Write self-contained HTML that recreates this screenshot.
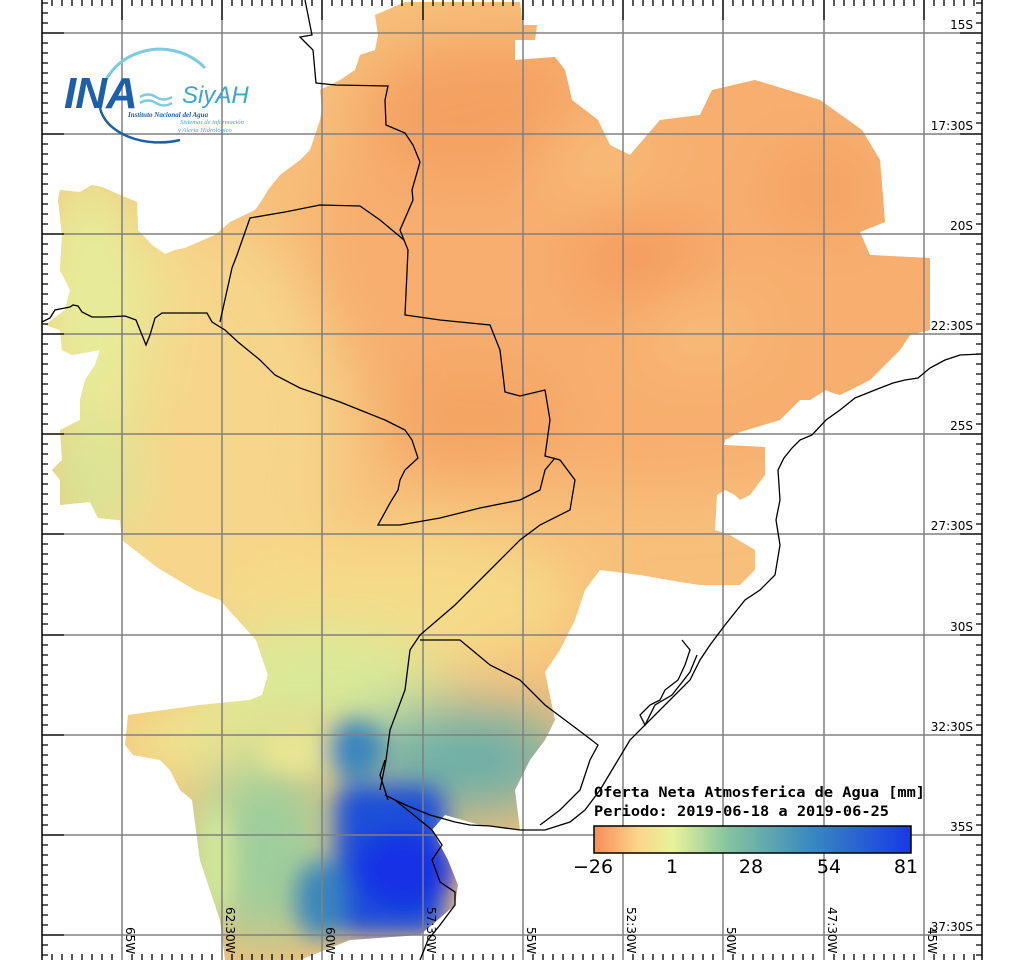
<!DOCTYPE html>
<html><head><meta charset="utf-8"><style>
html,body{margin:0;padding:0;background:#fff}
svg{display:block}
text{font-family:"DejaVu Sans","Liberation Sans",sans-serif}
</style></head><body>
<svg width="1024" height="960" viewBox="0 0 1024 960" xmlns="http://www.w3.org/2000/svg">
<defs>
<clipPath id="land">
<path d="M405,2 L520,2 L523,25 L537,25 L535,40 L515,40 L515,60 L555,57 L565,70 L572,100 L598,120 L610,145 L630,155 L660,120 L700,115 L712,90 L755,80 L820,100 L862,130 L880,160 L885,222 L860,232 L870,255 L930,258 L930,330 L910,335 L900,350 L880,370 L870,380 L840,395 L830,392 L826,390 L810,400 L800,400 L780,420 L740,432 L725,440 L724,445 L765,447 L765,475 L750,495 L740,500 L735,495 L725,490 L717,495 L715,530 L730,535 L755,550 L755,570 L740,585 L720,585 L700,585 L680,582 L640,575 L600,570 L585,590 L575,620 L560,650 L545,672 L555,720 L545,740 L530,760 L515,790 L520,830 L480,825 L445,815 L432,830 L448,860 L458,885 L455,905 L440,918 L420,935 L350,940 L330,948 L300,960 L225,960 L220,920 L210,890 L200,860 L192,800 L180,790 L170,770 L160,760 L133,755 L125,745 L128,715 L200,705 L250,700 L262,695 L268,675 L256,640 L220,600 L195,590 L158,568 L122,540 L120,520 L98,518 L90,502 L60,505 L60,480 L52,470 L62,460 L60,430 L80,420 L80,400 L85,380 L95,365 L100,350 L72,355 L62,350 L60,330 L45,325 L65,310 L70,290 L60,270 L62,235 L58,200 L60,190 L80,192 L92,185 L102,187 L120,195 L137,202 L138,230 L152,245 L165,254 L175,250 L185,248 L215,235 L230,222 L255,210 L262,200 L268,190 L280,175 L300,160 L310,150 L320,120 L322,108 L320,90 L340,80 L355,70 L360,55 L375,50 L378,35 L375,15 Z"/>
</clipPath>
<filter id="bl" x="-50%" y="-50%" width="200%" height="200%"><feGaussianBlur stdDeviation="30"/></filter>
<filter id="bl2" x="-50%" y="-50%" width="200%" height="200%"><feGaussianBlur stdDeviation="12"/></filter>
<linearGradient id="cb" x1="0" x2="1" y1="0" y2="0">
<stop offset="0" stop-color="#fb8c58"/>
<stop offset="0.14" stop-color="#fbd68a"/>
<stop offset="0.25" stop-color="#e8f29a"/>
<stop offset="0.42" stop-color="#86c49e"/>
<stop offset="0.68" stop-color="#3a8abf"/>
<stop offset="1" stop-color="#1739e6"/>
</linearGradient>
</defs>

<g clip-path="url(#land)">
<rect x="0" y="0" width="1024" height="960" fill="#f7bf7a"/>
<g filter="url(#bl)">
<ellipse cx="650" cy="250" rx="340" ry="240" fill="#f7ae6e"/>
<ellipse cx="470" cy="110" rx="110" ry="70" fill="#f4a062"/>
<ellipse cx="640" cy="260" rx="70" ry="45" fill="#f49c5e"/>
<ellipse cx="820" cy="190" rx="50" ry="40" fill="#f4a062"/>
<ellipse cx="600" cy="160" rx="60" ry="40" fill="#f8bb78"/>
<ellipse cx="700" cy="330" rx="60" ry="40" fill="#f8bb78"/>
<ellipse cx="470" cy="420" rx="90" ry="60" fill="#f4a464"/>
<ellipse cx="190" cy="430" rx="150" ry="210" fill="#f6d68a"/>
<ellipse cx="90" cy="300" rx="60" ry="140" fill="#e6ec98"/>
<ellipse cx="90" cy="480" rx="45" ry="55" fill="#d2e898"/>
<ellipse cx="400" cy="600" rx="180" ry="70" fill="#f6da88"/>
<ellipse cx="320" cy="680" rx="120" ry="55" fill="#d8ea98"/>
<ellipse cx="190" cy="740" rx="80" ry="40" fill="#eee690"/>
<ellipse cx="265" cy="850" rx="70" ry="100" fill="#9ccf9c"/>
<ellipse cx="460" cy="760" rx="110" ry="55" fill="#6aafa8"/>
</g>
<g filter="url(#bl2)">
<ellipse cx="215" cy="860" rx="18" ry="60" fill="#d2e89a"/>
<ellipse cx="300" cy="750" rx="45" ry="25" fill="#e8e692"/>
<rect x="335" y="785" width="110" height="150" rx="20" fill="#1e50d8"/>
<ellipse cx="405" cy="870" rx="50" ry="40" fill="#1232e4"/>
<ellipse cx="355" cy="750" rx="30" ry="30" fill="#3a86bc"/>
<ellipse cx="320" cy="900" rx="25" ry="40" fill="#3a86bc"/>
</g>
</g>

<!-- grid -->
<g stroke="#808080" stroke-width="1.5">
<line x1="42" y1="33" x2="982" y2="33"/><line x1="42" y1="134" x2="982" y2="134"/>
<line x1="42" y1="234" x2="982" y2="234"/><line x1="42" y1="334" x2="982" y2="334"/>
<line x1="42" y1="434" x2="982" y2="434"/><line x1="42" y1="534" x2="982" y2="534"/>
<line x1="42" y1="635" x2="982" y2="635"/><line x1="42" y1="735" x2="982" y2="735"/>
<line x1="42" y1="835" x2="982" y2="835"/><line x1="42" y1="935" x2="982" y2="935"/>
<line x1="122" y1="0" x2="122" y2="960"/><line x1="222" y1="0" x2="222" y2="960"/>
<line x1="322" y1="0" x2="322" y2="960"/><line x1="423" y1="0" x2="423" y2="960"/>
<line x1="523" y1="0" x2="523" y2="960"/><line x1="623" y1="0" x2="623" y2="960"/>
<line x1="723" y1="0" x2="723" y2="960"/><line x1="824" y1="0" x2="824" y2="960"/>
<line x1="924" y1="0" x2="924" y2="960"/>
</g>

<!-- borders -->
<g fill="none" stroke="#000" stroke-width="1.3">
<polyline points="305,0 308,15 312,35 300,37 313,50 316,83 336,85 388,86 385,100 386,125 405,133 413,145 420,162 412,190 413,200 400,230 408,250 405,315 440,320 490,325 500,350 505,392 520,396 545,390 550,420 545,456 560,460 575,480 570,510 540,525 520,540 500,560 480,580 455,605 420,635 410,650 405,690 390,730 386,760 380,790"/>
<polyline points="42,322 50,318 55,310 70,307 73,305 78,306 82,312 92,317 105,317 125,316 136,320 140,330 146,345 150,335 155,318 162,313 180,313 207,313 212,322 225,330 238,342 260,360 275,375 300,388 320,395 340,402 360,410 385,420 405,430 412,440 418,458 405,470 400,480 398,490 390,503 378,525 400,525 440,518 480,508 520,500 540,490 545,470 555,458"/>
<polyline points="220,322 232,268 237,255 250,218 285,212 320,205 360,206 380,220 398,235 404,240"/>
<polyline points="420,640 460,640 490,665 520,680 545,705 565,720 585,735 598,745 590,760 580,790 560,810 540,825"/>
<polyline points="981,354 960,355 945,360 930,368 918,378 905,380 893,383 880,388 870,392 855,398 840,410 826,420 812,435 800,440 792,448 784,458 778,470 780,500 776,520 780,545 775,575 760,590 745,600 725,625 710,645 700,660 690,680 670,700 650,720 630,740 615,765 600,790 585,810 570,822 545,830 520,830 490,826 470,825 455,822 430,815 408,806 395,800 385,795"/>
<polyline points="682,640 690,650 685,665 678,680 665,690 660,700 650,705 640,715 645,725 655,705 672,695 690,672 697,655"/>
<polyline points="395,800 410,812 432,830 442,845 432,860 440,882 455,892 455,905 440,925 428,940 420,960"/>
<polyline points="385,760 380,775 388,800"/>
</g>

<!-- axes ticks -->
<g stroke="#000" stroke-width="1.5">
<line x1="42" y1="0" x2="42" y2="960"/>
<line x1="982" y1="0" x2="982" y2="960"/>
</g>
<g stroke="#000" stroke-width="1.3">
<path d="M42,3h6M42,13h6M42,23h6M42,43h6M42,53h6M42,63h6M42,73h6M42,83h6M42,93h6M42,103h6M42,113h6M42,123h6M42,144h6M42,154h6M42,164h6M42,174h6M42,184h6M42,194h6M42,204h6M42,214h6M42,224h6M42,244h6M42,254h6M42,264h6M42,274h6M42,284h6M42,294h6M42,304h6M42,314h6M42,324h6M42,344h6M42,354h6M42,364h6M42,374h6M42,384h6M42,394h6M42,404h6M42,414h6M42,424h6M42,444h6M42,454h6M42,464h6M42,474h6M42,484h6M42,494h6M42,504h6M42,514h6M42,524h6M42,544h6M42,554h6M42,564h6M42,574h6M42,584h6M42,594h6M42,604h6M42,614h6M42,624h6M42,645h6M42,655h6M42,665h6M42,675h6M42,685h6M42,695h6M42,705h6M42,715h6M42,725h6M42,745h6M42,755h6M42,765h6M42,775h6M42,785h6M42,795h6M42,805h6M42,815h6M42,825h6M42,845h6M42,855h6M42,865h6M42,875h6M42,885h6M42,895h6M42,905h6M42,915h6M42,925h6M42,945h6M42,955h6"/>
<path d="M42,33h22M42,134h22M42,234h22M42,334h22M42,434h22M42,534h22M42,635h22M42,735h22M42,835h22M42,935h22"/>
<path d="M982,33h-22M982,134h-22M982,234h-22M982,334h-22M982,434h-22M982,534h-22M982,635h-22M982,735h-22M982,835h-22M982,935h-22"/>
<path d="M982,3h-6M982,13h-6M982,23h-6M982,43h-6M982,53h-6M982,63h-6M982,73h-6M982,83h-6M982,93h-6M982,103h-6M982,113h-6M982,123h-6M982,144h-6M982,154h-6M982,164h-6M982,174h-6M982,184h-6M982,194h-6M982,204h-6M982,214h-6M982,224h-6M982,244h-6M982,254h-6M982,264h-6M982,274h-6M982,284h-6M982,294h-6M982,304h-6M982,314h-6M982,324h-6M982,344h-6M982,354h-6M982,364h-6M982,374h-6M982,384h-6M982,394h-6M982,404h-6M982,414h-6M982,424h-6M982,444h-6M982,454h-6M982,464h-6M982,474h-6M982,484h-6M982,494h-6M982,504h-6M982,514h-6M982,524h-6M982,544h-6M982,554h-6M982,564h-6M982,574h-6M982,584h-6M982,594h-6M982,604h-6M982,614h-6M982,624h-6M982,645h-6M982,655h-6M982,665h-6M982,675h-6M982,685h-6M982,695h-6M982,705h-6M982,715h-6M982,725h-6M982,745h-6M982,755h-6M982,765h-6M982,775h-6M982,785h-6M982,795h-6M982,805h-6M982,815h-6M982,825h-6M982,845h-6M982,855h-6M982,865h-6M982,875h-6M982,885h-6M982,895h-6M982,905h-6M982,915h-6M982,925h-6M982,945h-6M982,955h-6"/>
<path d="M52,0v6M62,0v6M72,0v6M82,0v6M92,0v6M102,0v6M112,0v6M132,0v6M142,0v6M152,0v6M162,0v6M172,0v6M182,0v6M192,0v6M202,0v6M212,0v6M232,0v6M242,0v6M252,0v6M262,0v6M272,0v6M282,0v6M292,0v6M302,0v6M312,0v6M332,0v6M342,0v6M352,0v6M362,0v6M372,0v6M382,0v6M392,0v6M402,0v6M412,0v6M433,0v6M443,0v6M453,0v6M463,0v6M473,0v6M483,0v6M493,0v6M503,0v6M513,0v6M533,0v6M543,0v6M553,0v6M563,0v6M573,0v6M583,0v6M593,0v6M603,0v6M613,0v6M633,0v6M643,0v6M653,0v6M663,0v6M673,0v6M683,0v6M693,0v6M703,0v6M713,0v6M733,0v6M743,0v6M753,0v6M763,0v6M773,0v6M783,0v6M793,0v6M803,0v6M813,0v6M834,0v6M844,0v6M854,0v6M864,0v6M874,0v6M884,0v6M894,0v6M904,0v6M914,0v6M934,0v6M944,0v6M954,0v6M964,0v6M974,0v6"/>
<path d="M122,0v20M222,0v20M322,0v20M423,0v20M523,0v20M623,0v20M723,0v20M824,0v20M924,0v20"/>
<path d="M52,960v-6M62,960v-6M72,960v-6M82,960v-6M92,960v-6M102,960v-6M112,960v-6M132,960v-6M142,960v-6M152,960v-6M162,960v-6M172,960v-6M182,960v-6M192,960v-6M202,960v-6M212,960v-6M232,960v-6M242,960v-6M252,960v-6M262,960v-6M272,960v-6M282,960v-6M292,960v-6M302,960v-6M312,960v-6M332,960v-6M342,960v-6M352,960v-6M362,960v-6M372,960v-6M382,960v-6M392,960v-6M402,960v-6M412,960v-6M433,960v-6M443,960v-6M453,960v-6M463,960v-6M473,960v-6M483,960v-6M493,960v-6M503,960v-6M513,960v-6M533,960v-6M543,960v-6M553,960v-6M563,960v-6M573,960v-6M583,960v-6M593,960v-6M603,960v-6M613,960v-6M633,960v-6M643,960v-6M653,960v-6M663,960v-6M673,960v-6M683,960v-6M693,960v-6M703,960v-6M713,960v-6M733,960v-6M743,960v-6M753,960v-6M763,960v-6M773,960v-6M783,960v-6M793,960v-6M803,960v-6M813,960v-6M834,960v-6M844,960v-6M854,960v-6M864,960v-6M874,960v-6M884,960v-6M894,960v-6M904,960v-6M914,960v-6M934,960v-6M944,960v-6M954,960v-6M964,960v-6M974,960v-6"/>
</g>

<!-- right labels -->
<g font-size="12" fill="#000" text-anchor="end">
<text x="973" y="29">15S</text><text x="973" y="130">17:30S</text>
<text x="973" y="230">20S</text><text x="973" y="330">22:30S</text>
<text x="973" y="430">25S</text><text x="973" y="530">27:30S</text>
<text x="973" y="631">30S</text><text x="973" y="731">32:30S</text>
<text x="973" y="831">35S</text><text x="973" y="931">37:30S</text>
</g>
<g font-size="12" fill="#000">
<text transform="translate(126,927) rotate(90)">65W</text>
<text transform="translate(226,907) rotate(90)">62:30W</text>
<text transform="translate(326,927) rotate(90)">60W</text>
<text transform="translate(427,907) rotate(90)">57:30W</text>
<text transform="translate(527,927) rotate(90)">55W</text>
<text transform="translate(627,907) rotate(90)">52:30W</text>
<text transform="translate(727,927) rotate(90)">50W</text>
<text transform="translate(828,907) rotate(90)">47:30W</text>
<text transform="translate(928,927) rotate(90)">45W</text>
</g>

<!-- legend -->
<text x="594" y="797" font-size="14" font-weight="bold" textLength="331" lengthAdjust="spacingAndGlyphs" fill="#000" style="font-family:'DejaVu Sans Mono',monospace">Oferta Neta Atmosferica de Agua [mm]</text>
<text x="594" y="816" font-size="14" font-weight="bold" textLength="295" lengthAdjust="spacingAndGlyphs" fill="#000" style="font-family:'DejaVu Sans Mono',monospace">Periodo: 2019-06-18 a 2019-06-25</text>
<rect x="594" y="826" width="317" height="27" fill="url(#cb)" stroke="#000" stroke-width="1.5"/>
<g font-size="19" fill="#000" text-anchor="middle" style="font-family:'Liberation Sans',sans-serif">
<text x="593" y="873">−26</text><text x="672" y="873">1</text>
<text x="751" y="873">28</text><text x="829" y="873">54</text><text x="906" y="873">81</text>
</g>

<!-- logo -->
<g>
<path d="M100,100 A60,55 0 0 1 205,68" fill="none" stroke="#7ccbe0" stroke-width="3"/>
<path d="M100,108 A60,40 0 0 0 180,140" fill="none" stroke="#1d5fa8" stroke-width="2.5"/>
<text x="64" y="108" font-size="44" font-style="italic" font-weight="bold" fill="#1d5fa8" letter-spacing="-1" style="font-family:'Liberation Sans',sans-serif">INA</text>
<path d="M140,97 q8,-5 16,0 t16,0 M140,103 q8,-5 16,0 t16,0" fill="none" stroke="#7ccbe0" stroke-width="2.5"/>
<text x="182" y="103" font-size="24" font-style="italic" fill="#3aa7cf" style="font-family:'Liberation Sans',sans-serif">SiyAH</text>
<text x="128" y="117" font-size="7" font-style="italic" font-weight="bold" fill="#1d5fa8" style="font-family:'Liberation Serif',serif">Instituto Nacional del Agua</text>
<text x="180" y="124" font-size="6.5" font-style="italic" fill="#3aa7cf" style="font-family:'Liberation Serif',serif">Sistemas de información</text>
<text x="178" y="132" font-size="6.5" font-style="italic" fill="#3aa7cf" style="font-family:'Liberation Serif',serif">y Alerta Hidrológico</text>
</g>
</svg>
</body></html>
